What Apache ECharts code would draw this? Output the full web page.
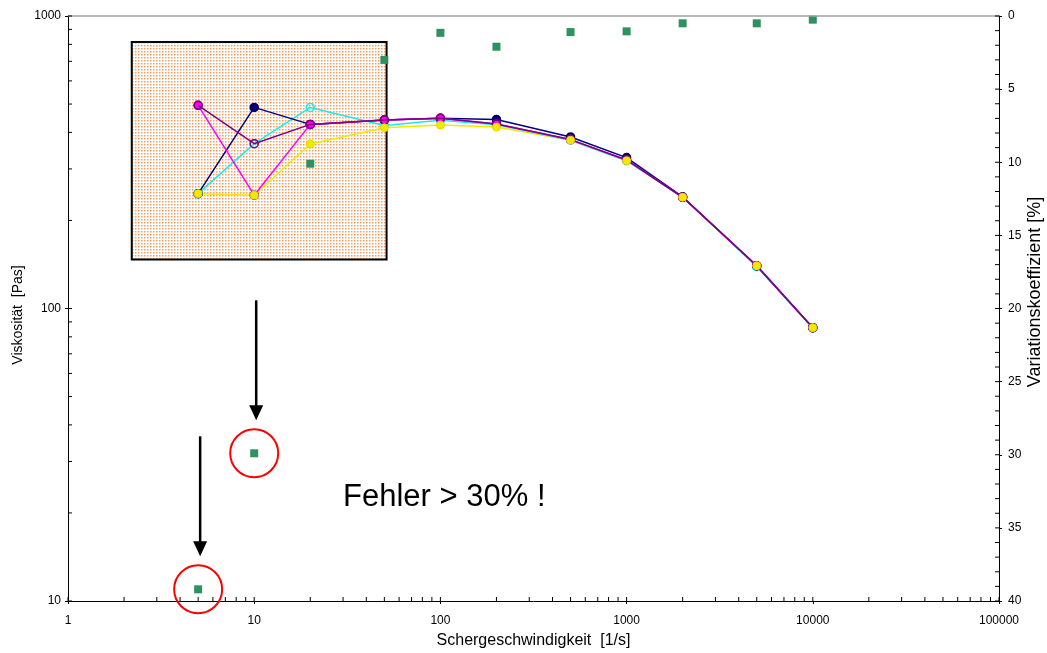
<!DOCTYPE html>
<html><head><meta charset="utf-8">
<script src="https://cdn.jsdelivr.net/npm/echarts@6/dist/echarts.min.js"></script>
<style>html,body{margin:0;padding:0;background:#fff}#c{width:1047px;height:653px}</style>
</head><body><div id="c"></div>
<script>
// ---- data ----
const shearRates = [5, 10, 20, 50, 100, 200, 500, 1000, 2000, 5000, 10000];
const viscNavy    = [247, 487, 426, 441, 447, 443, 386, 328, 241, 140, 86];
const viscPurple  = [495, 366, 426, 441, 447, 427, 378, 322, 240, 140, 86];
const viscMagenta = [495, 244, 426, 441, 447, 427, 378, 322, 240, 140, 86];
const viscCyan    = [247, 366, 487, 422, 440, 425, 376, 320, 240, 139, 85.8];
const viscYellow  = [247, 244, 365, 415, 424, 417, 376, 320, 240, 140, 86];
const varCoef     = [39.2, 29.9, 10.1, 3.0, 1.15, 2.1, 1.1, 1.05, 0.5, 0.5, 0.25];
const flaggedIdx  = [0, 1];
const xTickLabels = ['1', '10', '100', '1000', '10000', '100000'];
const yTickLabels = ['10', '100', '1000'];
const rightTickLabels = ['0', '5', '10', '15', '20', '25', '30', '35', '40'];
const annotationText = 'Fehler > 30% !';
const yTitle = 'Viskosität  [Pas]';
const rightTitle = 'Variationskoeffizient [%]';

const FONT = "'Liberation Sans', Arial, sans-serif";
const chart = echarts.init(document.getElementById('c'));

function pairs(ys) { return shearRates.map((x, i) => [x, ys[i]]); }
function lineSeries(name, ys, color, fill, border, z, showSym) {
  return {
    type: 'line', name: name, data: pairs(ys), xAxisIndex: 0, yAxisIndex: 0,
    symbol: 'circle', symbolSize: 8, z: z, animation: false, showSymbol: showSym !== false,
    lineStyle: { color: color, width: 1.5 },
    itemStyle: { color: fill, borderColor: border, borderWidth: 1.5, opacity: 1 }
  };
}

const option = {
  backgroundColor: '#fff',
  animation: false,
  grid: { left: 68, right: 48, top: 16, bottom: 52, containLabel: false, outerBoundsMode: 'none' },
  xAxis: [{
    type: 'log', logBase: 10, min: 1, max: 100000, position: 'bottom',
    axisLine: { show: true, onZero: false, lineStyle: { color: '#000', width: 1 } },
    axisTick: { show: true, length: 3, lineStyle: { color: '#000' } },
    axisLabel: { color: '#000', fontSize: 12, fontFamily: FONT, margin: 14,
      formatter: v => xTickLabels[Math.round(Math.log10(v))] },
    splitLine: { show: false },
    name: 'Schergeschwindigkeit  [1/s]', nameLocation: 'middle', nameGap: 32,
    nameTextStyle: { color: '#000', fontSize: 16, fontFamily: FONT }
  }],
  yAxis: [{
    type: 'log', logBase: 10, min: 10, max: 1000, position: 'left',
    axisLine: { show: true, onZero: false, lineStyle: { color: '#000', width: 1 } },
    axisTick: { show: true, length: 3, lineStyle: { color: '#000' } },
    axisLabel: { color: '#000', fontSize: 12, fontFamily: FONT, margin: 7,
      formatter: v => yTickLabels[Math.round(Math.log10(v)) - 1] },
    splitLine: { show: false }
  }, {
    type: 'value', min: 0, max: 40, interval: 5, inverse: true, position: 'right',
    axisLine: { show: true, onZero: false, lineStyle: { color: '#000', width: 1 } },
    axisTick: { show: true, length: 3, lineStyle: { color: '#000' } },
    axisLabel: { color: '#000', fontSize: 12, fontFamily: FONT, margin: 9,
      formatter: (v, i) => rightTickLabels[i] },
    splitLine: { show: false }
  }],
  series: [
    lineSeries('yellowLine', viscYellow, '#f5e800', '#f5e800', '#f5e800', 3, false),
    lineSeries('cyan', viscCyan, '#22e8e8', 'rgba(255,255,255,0)', '#22e8e8', 4),
    lineSeries('navy', viscNavy, '#000080', '#000080', '#000060', 5),
    lineSeries('magenta', viscMagenta, '#ff00ff', '#ff00ff', '#800080', 6),
    lineSeries('purple', viscPurple, '#800080', 'rgba(255,255,255,0)', '#800080', 7),
    {
      type: 'scatter', name: 'yellow', data: pairs(viscYellow), xAxisIndex: 0, yAxisIndex: 0,
      symbol: 'circle', symbolSize: 8, z: 8,
      itemStyle: { color: '#f5e800', borderColor: '#e8d800', borderWidth: 1, opacity: 1 }
    },
    {
      type: 'scatter', name: 'Variationskoeffizient', data: pairs(varCoef),
      xAxisIndex: 0, yAxisIndex: 1, symbol: 'rect', symbolSize: 8, z: 9,
      itemStyle: { color: '#2e9160', opacity: 1 }
    },
    {
      type: 'scatter', name: 'flagged', data: flaggedIdx.map(i => [shearRates[i], varCoef[i]]),
      xAxisIndex: 0, yAxisIndex: 1, symbol: 'circle', symbolSize: 48, z: 3, silent: true,
      itemStyle: { color: 'rgba(0,0,0,0)', borderColor: '#ff0000', borderWidth: 2, opacity: 1 }
    }
  ]
};
chart.setOption(option);

// ---- pattern for inset box ----
const tile = document.createElement('canvas');
tile.width = 3; tile.height = 3;
const tc = tile.getContext('2d');
tc.fillStyle = '#ffffff'; tc.fillRect(0, 0, 3, 3);
tc.fillStyle = '#f5a060'; tc.fillRect(0, 0, 1, 1);
tc.fillStyle = '#fbcfae'; tc.fillRect(1, 0, 1, 1); tc.fillRect(0, 1, 1, 1);
tc.fillStyle = '#fde6d4'; tc.fillRect(1, 1, 1, 1);

function px(x, y) { return chart.convertToPixel({ xAxisIndex: 0, yAxisIndex: 0 }, [x, y]); }
function pxR(x, y) { return chart.convertToPixel({ xAxisIndex: 0, yAxisIndex: 1 }, [x, y]); }

const g = [];
// top frame line
const tl = px(1, 1000), tr = px(100000, 1000);
g.push({ type: 'line', z: 10, shape: { x1: tl[0], y1: tl[1], x2: tr[0], y2: tr[1] },
  style: { stroke: '#a0a0a0', lineWidth: 1.5 } });
// inset box
const b1 = px(2.2, 815), b2 = px(51.4, 147);
g.push({ type: 'rect', z: 1, shape: { x: b1[0], y: b1[1], width: b2[0] - b1[0], height: b2[1] - b1[1] },
  style: { fill: { image: tile, repeat: 'repeat' }, stroke: '#000', lineWidth: 2 } });

// ticks
const tickStyle = { stroke: '#000', lineWidth: 1 };
const yBottom = px(1, 10)[1], xLeft = px(1, 10)[0], xRight = px(100000, 10)[0];
for (let k = 0; k <= 5; k++) {
  for (let m = 1; m <= 9; m++) {
    const v = m * Math.pow(10, k);
    if (v > 100000) break;
    const p = px(v, 10)[0];
    g.push({ type: 'line', z: 10, shape: { x1: p, y1: yBottom, x2: p, y2: yBottom - 4 }, style: tickStyle });
  }
}
for (let k = 1; k <= 3; k++) {
  for (let m = 1; m <= 9; m++) {
    const v = m * Math.pow(10, k);
    if (v > 1000) break;
    const p = px(1, v)[1];
    g.push({ type: 'line', z: 10, shape: { x1: xLeft, y1: p, x2: xLeft + 4, y2: p }, style: tickStyle });
  }
}
for (let v = 0; v <= 40; v++) {
  const p = pxR(100000, v)[1];
  g.push({ type: 'line', z: 10, shape: { x1: xRight, y1: p, x2: xRight - 4, y2: p }, style: tickStyle });
}

// axis titles (vertical)
g.push({ type: 'text', z: 10, x: 18, y: 315, rotation: Math.PI / 2,
  style: { text: yTitle, fill: '#000', font: '14px ' + FONT, textAlign: 'center', textVerticalAlign: 'middle' } });
g.push({ type: 'text', z: 10, x: 1035, y: 292, rotation: Math.PI / 2,
  style: { text: rightTitle, fill: '#000', font: '18px ' + FONT, textAlign: 'center', textVerticalAlign: 'middle' } });

// arrows to flagged points
flaggedIdx.forEach(i => {
  const p = pxR(shearRates[i], varCoef[i]);
  const ax = p[0] + 2, tipY = p[1] - 33, startY = p[1] - 153;
  g.push({ type: 'line', z: 10, shape: { x1: ax, y1: startY, x2: ax, y2: tipY - 12 },
    style: { stroke: '#000', lineWidth: 2.5 } });
  g.push({ type: 'polygon', z: 10, shape: { points: [[ax - 7, tipY - 15], [ax + 7, tipY - 15], [ax, tipY]] },
    style: { fill: '#000' } });
});

// annotation text
const tp = px(30, 22.6);
g.push({ type: 'text', z: 10, x: tp[0], y: tp[1],
  style: { text: annotationText, fill: '#000', font: '31px ' + FONT, textAlign: 'left', textVerticalAlign: 'middle' } });

chart.setOption({ graphic: g });
</script>
</body></html>
